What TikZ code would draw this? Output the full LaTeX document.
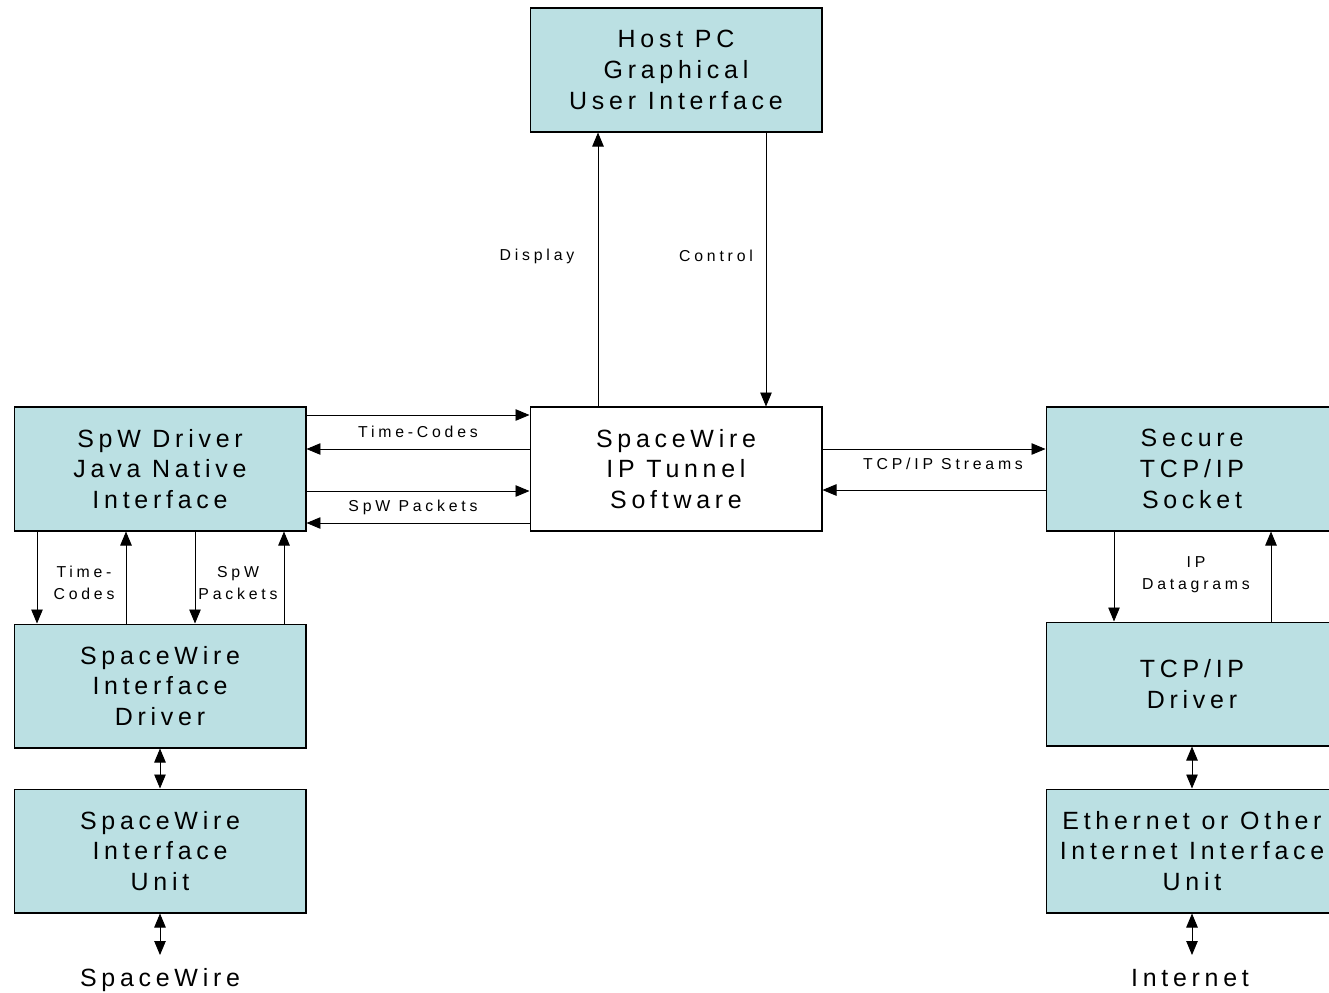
\documentclass[tikz,border=0pt]{standalone}
\usepackage{fontspec}
\usetikzlibrary{arrows.meta}

% Fonts and colours
\newfontfamily\boxfont[LetterSpace=19]{Liberation Sans}
\newfontfamily\labelfont[LetterSpace=24]{Liberation Sans}
\definecolor{boxcol}{RGB}{187,224,227}

\begin{document}
\begin{tikzpicture}[x=0.02cm,y=-0.02cm,
  block/.style={draw,line width=0.6pt,fill=boxcol,minimum width=5.84cm,
    minimum height=2.48cm,inner sep=0pt,align=center,
    font=\boxfont\fontsize{14.2}{17.6}\selectfont},
  lbl/.style={align=center,font=\labelfont\fontsize{9}{12.5}\selectfont},
  link/.style={line width=0.5pt,-{Triangle[length=0.28cm,width=0.23cm]}},
  twoway/.style={line width=0.5pt,
    {Triangle[length=0.28cm,width=0.23cm]}-{Triangle[length=0.28cm,width=0.23cm]}}]

\useasboundingbox (0,0) rectangle (1329,992);

% Blocks
\node[block] (host) at (676,70) {Host PC\\Graphical\\User Interface};
\node[block,fill=white] (tunnel) at (676,469) {SpaceWire\\IP Tunnel\\Software};
\node[block] (jni) at (160,469) {SpW Driver\\Java Native\\Interface};
\node[block] (swdrv) at (160,686) {SpaceWire\\Interface\\Driver};
\node[block] (swunit) at (160,851) {SpaceWire\\Interface\\Unit};
\node[block] (socket) at (1192,469) {Secure\\TCP/IP\\Socket};
\node[block] (tcpdrv) at (1192,684) {TCP/IP\\Driver};
\node[block] (ether) at (1192,851) {Ethernet or Other\\Internet Interface\\Unit};

% Outside links
\node[font=\boxfont\fontsize{14.2}{17.6}\selectfont,inner sep=0pt,anchor=base] (spw) at (160,986) {SpaceWire};
\node[font=\boxfont\fontsize{14.2}{17.6}\selectfont,inner sep=0pt,anchor=base] (net) at (1190,986) {Internet};

% Host PC <-> tunnel
\draw[link] (tunnel.north -| 598,0) -- (host.south -| 598,0);
\draw[link] (host.south -| 766,0) -- (tunnel.north -| 766,0);
\node[lbl] (disp) at (537,256) {Display};
\node[lbl] (ctrl) at (716,256) {Control};

% JNI <-> tunnel
\draw[link] (jni.east |- 0,415) -- (tunnel.west |- 0,415);
\draw[link] (tunnel.west |- 0,449) -- (jni.east |- 0,449);
\draw[link] (jni.east |- 0,491) -- (tunnel.west |- 0,491);
\draw[link] (tunnel.west |- 0,523) -- (jni.east |- 0,523);
\node[lbl] (tc) at (418,432) {Time-Codes};
\node[lbl] (pk) at (413,507) {SpW Packets};

% tunnel <-> socket
\draw[link] (tunnel.east |- 0,449) -- (socket.west |- 0,449);
\draw[link] (socket.west |- 0,490) -- (tunnel.east |- 0,490);
\node[lbl] (tcp) at (943,464) {TCP/IP Streams};

% JNI <-> SpaceWire driver
\draw[link] (jni.south -| 37,0) -- (swdrv.north -| 37,0);
\draw[link] (swdrv.north -| 126,0) -- (jni.south -| 126,0);
\draw[link] (jni.south -| 195,0) -- (swdrv.north -| 195,0);
\draw[link] (swdrv.north -| 284,0) -- (jni.south -| 284,0);
\node[lbl] (tc2) at (84,583) {Time-\\Codes};
\node[lbl] (pk2) at (238,583) {SpW\\Packets};

% socket <-> TCP/IP driver
\draw[link] (socket.south -| 1114,0) -- (tcpdrv.north -| 1114,0);
\draw[link] (tcpdrv.north -| 1271,0) -- (socket.south -| 1271,0);
\node[lbl] (ip) at (1196,575) {IP\\Datagrams};

% Stacks
\draw[twoway] (swdrv) -- (swunit);
\draw[twoway] (swunit) -- (swunit.south |- 0,955);
\draw[twoway] (tcpdrv) -- (ether);
\draw[twoway] (ether) -- (ether.south |- 0,955);

\end{tikzpicture}
\end{document}
